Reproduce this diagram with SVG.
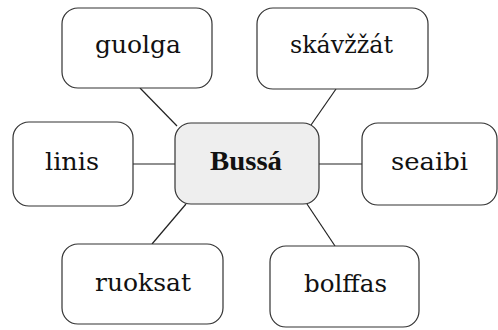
<svg xmlns="http://www.w3.org/2000/svg" width="498" height="330" viewBox="0 0 498 330">
<style>
.box{fill:#ffffff;stroke:#333333;stroke-width:1.2}
.hub{fill:#eeeeee;stroke:#333333;stroke-width:1.2}
.lbl{font-family:'DejaVu Serif',serif;font-size:24px;fill:#111111;text-anchor:middle}
.bold{font-family:'Liberation Serif',serif;font-size:27px;font-weight:bold}
.edge{stroke:#222222;stroke-width:1.2;fill:none}
</style>
<rect width="498" height="330" fill="#ffffff"/>
<g id="connectors">
<line class="edge" x1="140" y1="88" x2="177" y2="126"/>
<line class="edge" x1="336" y1="89" x2="311" y2="125"/>
<line class="edge" x1="133" y1="164" x2="175" y2="164"/>
<line class="edge" x1="319" y1="164" x2="362" y2="164"/>
<line class="edge" x1="186" y1="204" x2="152" y2="244"/>
<line class="edge" x1="307" y1="204" x2="335" y2="246"/>
</g>
<g id="node-bussa">
<rect class="hub" x="175" y="123" width="144" height="81" rx="16"/>
<text class="lbl bold" x="246" y="170" textLength="72" lengthAdjust="spacingAndGlyphs">Bussá</text>
</g>
<g id="node-guolga">
<rect class="box" x="62" y="8" width="150" height="80" rx="16"/>
<text class="lbl" x="138" y="53" textLength="86" lengthAdjust="spacingAndGlyphs">guolga</text>
</g>
<g id="node-skavzzat">
<rect class="box" x="257" y="8" width="171" height="81" rx="16"/>
<text class="lbl" x="341.5" y="53" textLength="103" lengthAdjust="spacingAndGlyphs">skávžžát</text>
</g>
<g id="node-linis">
<rect class="box" x="13" y="122" width="120" height="84" rx="16"/>
<text class="lbl" x="72" y="170" textLength="54" lengthAdjust="spacingAndGlyphs">linis</text>
</g>
<g id="node-seaibi">
<rect class="box" x="362" y="123" width="135" height="82" rx="16"/>
<text class="lbl" x="429.5" y="170" textLength="77" lengthAdjust="spacingAndGlyphs">seaibi</text>
</g>
<g id="node-ruoksat">
<rect class="box" x="62" y="244" width="161" height="80" rx="16"/>
<text class="lbl" x="143" y="291" textLength="96" lengthAdjust="spacingAndGlyphs">ruoksat</text>
</g>
<g id="node-bolffas">
<rect class="box" x="270" y="246" width="149" height="81" rx="16"/>
<text class="lbl" x="345.5" y="291.5" textLength="83" lengthAdjust="spacingAndGlyphs">bolffas</text>
</g>
</svg>
